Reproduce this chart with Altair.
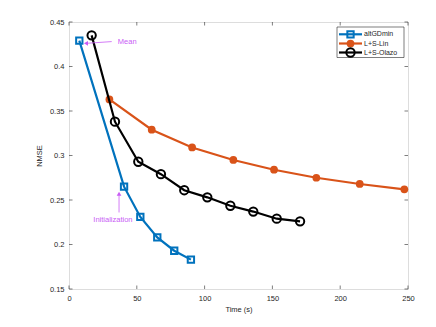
import altair as alt
import pandas as pd

# ---- data ----
alt_x = [7.6, 40.6, 52.6, 65.1, 77.6, 89.9]
alt_y = [0.429, 0.265, 0.231, 0.208, 0.193, 0.183]
lin_x = [29.8, 61.0, 90.8, 121.2, 151.2, 182.4, 214.4, 247.3]
lin_y = [0.363, 0.329, 0.309, 0.295, 0.284, 0.275, 0.268, 0.262]
ola_x = [16.7, 33.9, 51.1, 67.8, 85.0, 102.0, 119.0, 135.9, 153.2, 170.4]
ola_y = [0.435, 0.338, 0.293, 0.279, 0.261, 0.253, 0.2435, 0.237, 0.229, 0.226]
x_ticks = [0, 50, 100, 150, 200, 250]
y_ticks = [0.15, 0.2, 0.25, 0.3, 0.35, 0.4, 0.45]
legend_names = ["altGDmin", "L+S-Lin", "L+S-Olazo"]

BLUE = "#0072BD"
ORANGE = "#D95319"
BLACK = "#000000"
ANNOT = "#C95CF5"
AXC = "#262626"
FONT = "Liberation Sans"

W, H = 339, 267

xs = alt.Scale(domain=[0, 250], nice=False)
ys = alt.Scale(domain=[0.15, 0.45], nice=False)

df_alt = pd.DataFrame({"x": alt_x, "y": alt_y})
df_lin = pd.DataFrame({"x": lin_x, "y": lin_y})
df_ola = pd.DataFrame({"x": ola_x, "y": ola_y})

X = alt.X("x:Q", scale=xs,
          axis=alt.Axis(values=x_ticks, title="Time (s)", grid=False, domain=False,
                        ticks=False, labelPadding=5, labelFontSize=7.5, titleFontSize=7.5,
                        titleFontWeight="normal", labelColor=AXC, titleColor=AXC,
                        labelFont=FONT, titleFont=FONT, titlePadding=4, labelFlush=False))
Y = alt.Y("y:Q", scale=ys,
          axis=alt.Axis(values=y_ticks, title="NMSE", grid=False, domain=False,
                        ticks=False, labelPadding=5, labelFontSize=7.5, titleFontSize=7.5,
                        titleFontWeight="normal", labelColor=AXC, titleColor=AXC,
                        labelFont=FONT, titleFont=FONT, titlePadding=6, format=".2~f",
                        labelFlush=False))


def series(df, color, shape, filled, size):
    base = alt.Chart(df)
    line = base.mark_line(color=color, strokeWidth=2.2).encode(x=X, y=Y)
    pts = base.mark_point(color=color, shape=shape, filled=filled, size=size,
                          strokeWidth=2 if not filled else 0, opacity=1).encode(x="x:Q", y="y:Q")
    return line + pts


s_lin = series(df_lin, ORANGE, "circle", True, 60)
s_ola = series(df_ola, BLACK, "circle", False, 70)
s_alt = series(df_alt, BLUE, "square", False, 40)

# inner ticks (box style)
tx = pd.DataFrame({"x": x_ticks})
ty = pd.DataFrame({"y": y_ticks})
tick_style = dict(color=AXC, strokeWidth=0.6)
xt_bot = alt.Chart(tx).mark_rule(**tick_style).encode(x="x:Q", y=alt.value(H), y2=alt.value(H - 3.5))
xt_top = alt.Chart(tx).mark_rule(**tick_style).encode(x="x:Q", y=alt.value(0), y2=alt.value(3.5))
yt_l = alt.Chart(ty).mark_rule(**tick_style).encode(y="y:Q", x=alt.value(0), x2=alt.value(3.5))
yt_r = alt.Chart(ty).mark_rule(**tick_style).encode(y="y:Q", x=alt.value(W), x2=alt.value(W - 3.5))

# annotations
mean_arrow = pd.DataFrame({"x": [31.5], "y": [0.428], "x2": [12.5], "y2": [0.426]})
mean_txt = pd.DataFrame({"x": [36.0], "y": [0.428], "t": ["Mean"]})
init_arrow = pd.DataFrame({"x": [36.9], "y": [0.236], "x2": [36.9], "y2": [0.257]})
init_txt = pd.DataFrame({"x": [32.4], "y": [0.228], "t": ["Initialization"]})

a1 = alt.Chart(mean_arrow).mark_rule(color=ANNOT, strokeWidth=0.8).encode(
    x="x:Q", y="y:Q", x2="x2:Q", y2="y2:Q")
a1h = alt.Chart(mean_arrow).mark_point(shape="triangle-left", filled=True, color=ANNOT,
                                         size=22, opacity=1).encode(x="x2:Q", y="y2:Q")
t1 = alt.Chart(mean_txt).mark_text(color=ANNOT, align="left", baseline="middle",
                                   fontSize=7.5, font=FONT).encode(x="x:Q", y="y:Q", text="t:N")
a2 = alt.Chart(init_arrow).mark_rule(color=ANNOT, strokeWidth=0.8).encode(
    x="x:Q", y="y:Q", x2="x2:Q", y2="y2:Q")
a2h = alt.Chart(init_arrow).mark_point(shape="triangle-up", filled=True, color=ANNOT,
                                         size=22, opacity=1).encode(x="x2:Q", y="y2:Q")
t2 = alt.Chart(init_txt).mark_text(color=ANNOT, align="center", baseline="middle",
                                   fontSize=7.5, font=FONT).encode(x="x:Q", y="y:Q", text="t:N")

# manual legend (MATLAB-style box)
leg = pd.DataFrame({"name": legend_names, "k": [0, 1, 2]})
LX0, LX1, LY0, LY1 = 268, 335, 5, 35.5
row_y = [12.3, 21.5, 30.5]
leg_box = alt.Chart(pd.DataFrame({"a": [0]})).mark_rect(
    fill="white", stroke=AXC, strokeWidth=0.6).encode(
    x=alt.value(LX0), x2=alt.value(LX1), y=alt.value(LY0), y2=alt.value(LY1))
leg_layers = [leg_box]
styles = [(BLUE, "square", False, 40), (ORANGE, "circle", True, 60), (BLACK, "circle", False, 70)]
for i, (c, shp, fl, sz) in enumerate(styles):
    d = leg[leg.k == i]
    leg_layers.append(alt.Chart(d).mark_rule(color=c, strokeWidth=2.2).encode(
        x=alt.value(270), x2=alt.value(293), y=alt.value(row_y[i])))
    leg_layers.append(alt.Chart(d).mark_point(color=c, shape=shp, filled=fl, size=sz,
                                              strokeWidth=2 if not fl else 0, opacity=1).encode(
        x=alt.value(281.5), y=alt.value(row_y[i])))
    leg_layers.append(alt.Chart(d).mark_text(align="left", baseline="middle", fontSize=7,
                                             font=FONT, color=AXC).encode(
        x=alt.value(295), y=alt.value(row_y[i]), text="name:N"))

chart = alt.layer(
    s_lin, s_ola, s_alt,
    xt_bot, xt_top, yt_l, yt_r,
    a1, a1h, t1, a2, a2h, t2,
    *leg_layers,
).properties(
    width=W, height=H,
    autosize=alt.AutoSizeParams(type="none"),
    padding={"left": 61, "top": 14, "right": 20, "bottom": 30},
).configure_view(stroke=AXC, strokeWidth=0.8).configure(background="white")

chart.save("out.html", embed_options={"renderer": "svg", "actions": False})
